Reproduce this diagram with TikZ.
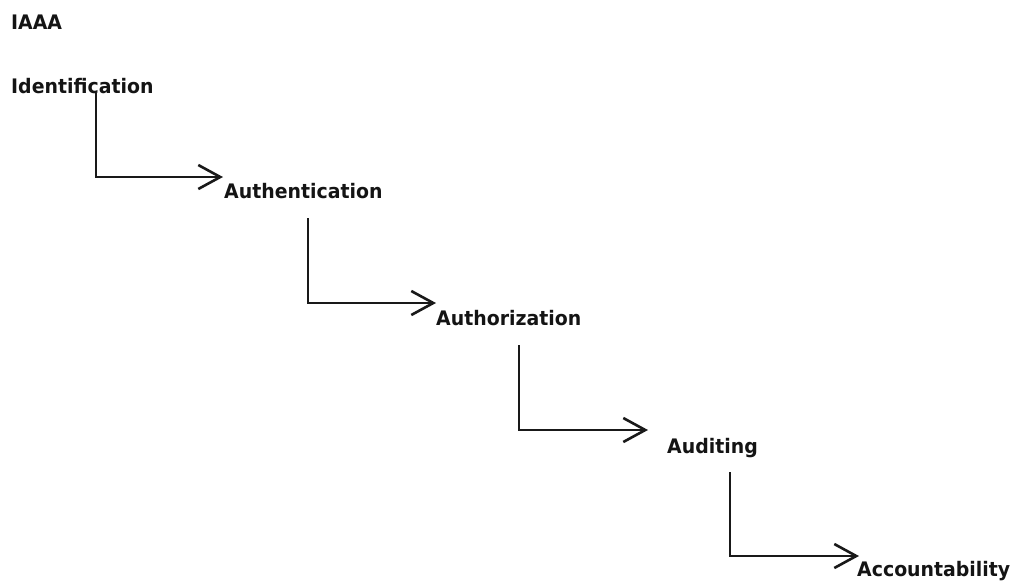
\documentclass[tikz,border=0pt]{standalone}
\usepackage{fontspec}
\newfontfamily\labfont[FakeStretch=0.945]{DejaVu Sans}
\usetikzlibrary{arrows.meta}
\begin{document}
\begin{tikzpicture}[x=1pt,y=-1pt,
  lab/.style={anchor=base west,inner sep=0pt,font=\labfont\bfseries\fontsize{20pt}{24pt}\selectfont,text=black!92},
  conn/.style={line width=2.6pt,draw=black!90,-{Straight Barb[length=22pt,width=24pt,line width=2.6pt]}}]
\useasboundingbox (0,0) rectangle (1015,582);
\node[lab] (iaaa) at (11,29) {IAAA};
\node[lab] (ident) at (11,93) {Identification};
\node[lab] (authn) at (224,198) {Authentication};
\node[lab] (authz) at (436,325) {Authorization};
\node[lab] (audit) at (667,453) {Auditing};
\node[lab] (acct) at (857,576) {Accountability};
\coordinate (s1) at (96,93);  \coordinate (e1) at (223,177);
\coordinate (s2) at (308,218); \coordinate (e2) at (436,303);
\coordinate (s3) at (519,345); \coordinate (e3) at (648,430);
\coordinate (s4) at (730,472); \coordinate (e4) at (859,556);
\draw[conn] (s1) |- (e1);
\draw[conn] (s2) |- (e2);
\draw[conn] (s3) |- (e3);
\draw[conn] (s4) |- (e4);
\end{tikzpicture}
\end{document}
